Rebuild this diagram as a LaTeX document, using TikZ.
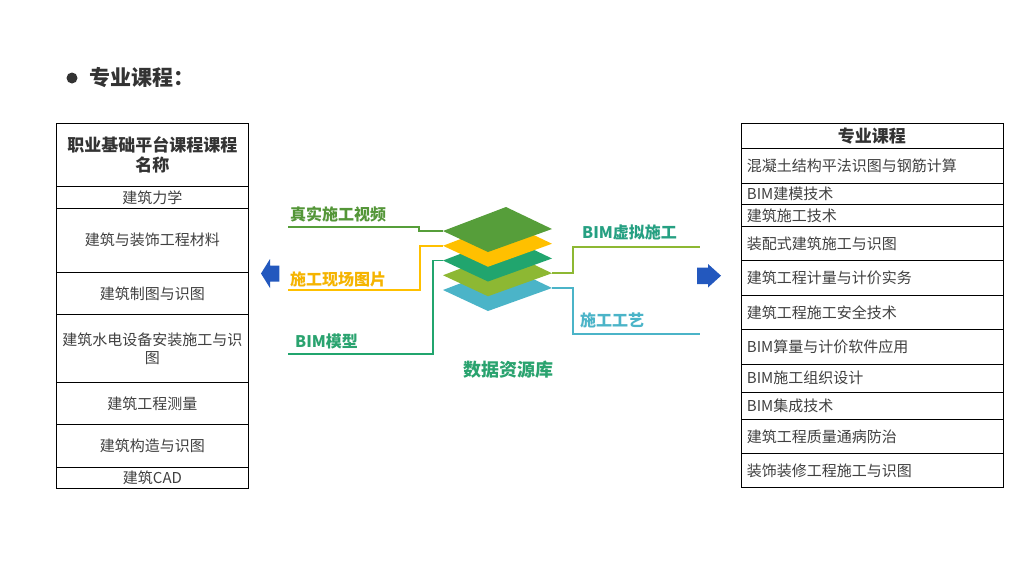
\documentclass[tikz,border=0pt]{standalone}
\usepackage{fontspec}
\setmainfont{Noto Sans CJK SC}
\definecolor{inkgray}{RGB}{64,64,64}
\definecolor{headgray}{RGB}{51,51,51}
\definecolor{layA}{RGB}{86,158,58}
\definecolor{layB}{RGB}{255,192,0}
\definecolor{layC}{RGB}{33,165,110}
\definecolor{layD}{RGB}{141,184,51}
\definecolor{layE}{RGB}{75,180,200}
\definecolor{txtA}{RGB}{84,150,56}
\definecolor{txtB}{RGB}{245,180,0}
\definecolor{txtC}{RGB}{42,163,111}
\definecolor{txtD}{RGB}{38,160,130}
\definecolor{arrowblue}{RGB}{35,88,190}
\begin{document}
\begin{tikzpicture}[x=1pt,y=-1pt,
	cell/.style={draw=black,line width=0.9pt,inner sep=0pt,anchor=north west,text=inkgray,font=\fontsize{15}{18}\selectfont},
	lcell/.style={cell,minimum width=192pt,align=center},
	rcell/.style={cell,minimum width=262pt,text width=250pt,align=left},
	hcell/.style={cell,align=center,text=headgray,font=\bfseries\fontsize{17}{20}\selectfont},
	link/.style={line width=1.7pt},
	tag/.style={anchor=west,inner sep=0pt,font=\bfseries\fontsize{16}{19}\selectfont}]
	\fill[white] (0,0) rectangle (1024,576);
	\useasboundingbox (0,0) rectangle (1024,576);
	% title
	\node[circle,fill=headgray,minimum size=11pt,inner sep=0pt] (dot) at (72,78) {};
	\node[anchor=west,text=headgray,font=\bfseries\fontsize{21}{24}\selectfont] (title) at (86,78) {专业课程：};
	% left table
	\node[hcell,minimum width=192pt,minimum height=62.7pt] (lhead) at (56,123.3) {职业基础平台课程课程\\名称};
	\foreach \ya/\yb/\txt [count=\i] in {186/207.7/建筑力学,207.7/271.7/建筑与装饰工程材料,271.7/314/建筑制图与识图,314/381.7/{建筑水电设备安装施工与识\\图},381.7/424.3/建筑工程测量,424.3/466.7/建筑构造与识图,466.7/487.7/建筑CAD}
		\node[lcell,minimum height={(\yb-\ya)*1pt}] (lrow\i) at (56,\ya) {\txt};
	% right table
	\node[hcell,minimum width=262pt,minimum height=25pt] (rhead) at (740.5,123.3) {专业课程};
	\foreach \ya/\yb/\txt [count=\i] in {148.3/182.7/混凝土结构平法识图与钢筋计算,182.7/204.3/BIM建模技术,204.3/226/建筑施工技术,226/260.3/装配式建筑施工与识图,260.3/295/建筑工程计量与计价实务,295/329.3/建筑工程施工安全技术,329.3/363.7/BIM算量与计价软件应用,363.7/391.7/BIM施工组织设计,391.7/419.3/BIM集成技术,419.3/453.3/建筑工程质量通病防治,453.3/487.3/装饰装修工程施工与识图}
		\node[rcell,minimum height={(\yb-\ya)*1pt}] (rrow\i) at (740.5,\ya) {\txt};
	% arrows
	\fill[arrowblue] (261,273.5) -- (270,259) -- (270,265.5) -- (279.3,265.5) -- (279.3,281.5) -- (270,281.5) -- (270,288) -- cycle;
	\fill[arrowblue] (721,275.7) -- (708,264) -- (708,267.5) -- (697,267.5) -- (697,284) -- (708,284) -- (708,287.5) -- cycle;
	% layer corners and free ends
	\foreach \k in {0,...,4}{
		\coordinate (lw\k) at (443,231+\k*14.75);
		\coordinate (le\k) at (552,229+\k*14.75);
	}
	\coordinate (vidend) at (288,226.7);
	\coordinate (picend) at (288,290);
	\coordinate (bimend) at (288,354);
	\coordinate (virtend) at (700,246.7);
	\coordinate (craftend) at (700,334);
	% connectors
	\draw[link,layA] (vidend) -- ++(131,0) |- (lw0);
	\draw[link,layB] (picend) -- ++(132,0) |- (lw1);
	\draw[link,layC] (bimend) -- ++(145,0) |- (lw2);
	\draw[link,layD] (le3) -- ++(21,0) |- (virtend);
	\draw[link,layE] (le4) -- ++(21,0) |- (craftend);
	% stacked layers
	\foreach \c/\k in {layE/4,layD/3,layC/2,layB/1,layA/0}
		\fill[\c,shift={(0,\k*14.75)}] (506,207) -- (552,229) -- (488,252) -- (443,231) -- cycle;
	% labels
	\node[tag,text=txtA] (vid) at (290,214) {真实施工视频};
	\node[tag,text=txtB] (pic) at (290,279) {施工现场图片};
	\node[tag,text=txtC] (bim) at (295,341) {BIM模型};
	\node[tag,text=txtD] (virt) at (582,232) {BIM虚拟施工};
	\node[tag,text=layE] (craft) at (580,320) {施工工艺};
	\node[text=txtC,font=\bfseries\fontsize{18}{21}\selectfont] (base) at (508,370) {数据资源库};
\end{tikzpicture}
\end{document}
